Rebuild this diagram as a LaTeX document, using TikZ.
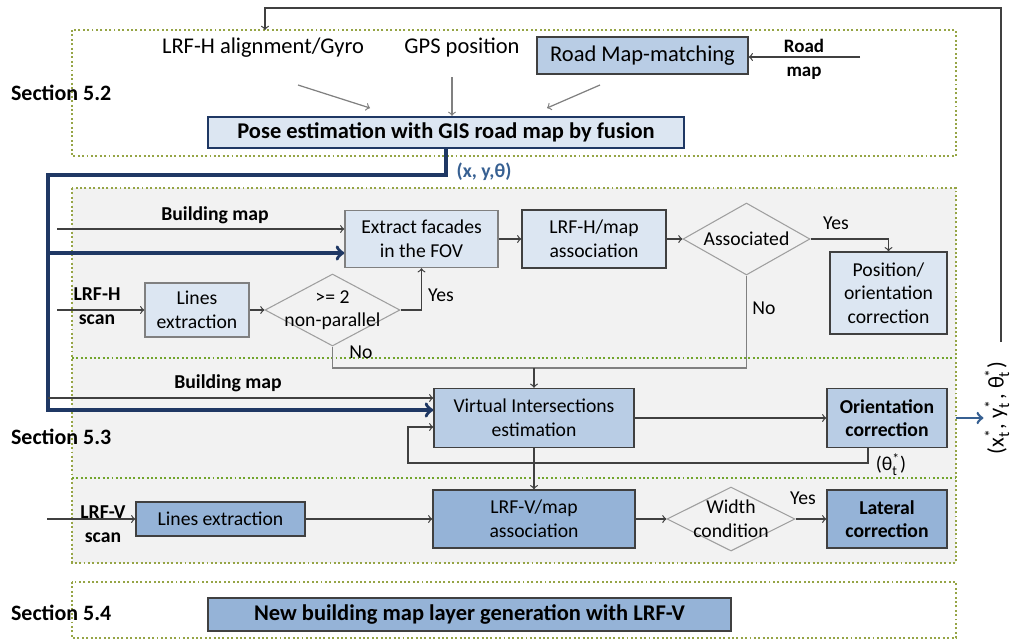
\documentclass[tikz,border=0pt]{standalone}
\usepackage{fontspec}
\usepackage{amsmath}
\setmainfont{Carlito}
\usetikzlibrary{shapes.geometric}

\definecolor{boxlight}{RGB}{220,230,242}
\definecolor{boxmid}{RGB}{185,205,229}
\definecolor{boxdark}{RGB}{149,179,215}
\definecolor{busblue}{RGB}{31,56,100}
\definecolor{outblue}{RGB}{55,96,146}
\definecolor{secolive}{RGB}{150,165,70}
\definecolor{secgreen}{RGB}{115,165,45}
\definecolor{secfill}{RGB}{242,242,242}
\definecolor{linegray}{RGB}{64,64,64}

\newcommand{\dfont}{\fontsize{11.2}{13.4}\selectfont}
\newcommand{\bigfont}{\fontsize{12.8}{15}\selectfont}

\tikzset{
	txt/.style={font=\dfont, inner sep=1pt, align=center},
	btxt/.style={font=\dfont\bfseries, inner sep=1pt, align=center},
	blk/.style={draw=linegray, line width=0.8pt, font=\dfont, align=center, inner sep=1pt},
	dec/.style={diamond, draw=gray!75, line width=0.6pt, inner sep=0pt},
	arr/.style={->, draw=linegray, line width=0.7pt},
	bus/.style={->, draw=busblue, line width=2pt},
	frame/.style={draw=secolive, line width=1.4pt, dash pattern=on 1.1pt off 1.4pt},
	sep/.style={draw=secgreen, line width=1.4pt, dash pattern=on 1.1pt off 1.4pt}
}

\begin{document}
\begin{tikzpicture}[x=0.02cm, y=-0.02cm]
			\useasboundingbox (0,0) rectangle (1011,640);
			% sections
			\fill[secfill] (72,188) rectangle (956,563);
			\draw[frame] (72,30) rectangle (956,156);
			\draw[frame] (72,188) rectangle (956,563);
			\draw[sep] (72,358) -- (956,358);
			\draw[sep] (72,478) -- (956,478);
			\draw[frame] (72,582) rectangle (956,638);
			\node[btxt, anchor=west, font=\fontsize{12.5}{15}\selectfont\bfseries](s52) at (9,93){Section 5.2};
			\node[btxt, anchor=west, font=\fontsize{12.5}{15}\selectfont\bfseries](s53) at (9,437){Section 5.3};
			\node[btxt, anchor=west, font=\fontsize{12.5}{15}\selectfont\bfseries](s54) at (9,613){Section 5.4};
			% section 5.2
			\node[txt, font=\bigfont](gyro) at (263,48){LRF-H alignment/Gyro};
			\node[txt, font=\bigfont](gps) at (462,48){GPS position};
			\node[blk, font=\bigfont, fill=boxmid, minimum width=4.22cm, minimum height=0.74cm](rmm) at (642.5,55.5){Road Map-matching};
			\node[btxt, font=\fontsize{10.8}{13.5}\selectfont\bfseries](road) at (804,59){Road\\map};
			\node[blk, font=\bigfont\bfseries, draw=busblue, fill=boxlight, line width=1.3pt, minimum width=9.52cm, minimum height=0.62cm](pose) at (446,132.5){Pose estimation with GIS road map by fusion};
			\node[btxt, text=outblue](xyt) at (484,172){(x, y,θ)};
			% section 5.3, LRF-H
			\node[btxt](bm1t) at (215,215){Building map};
			\node[blk, draw=gray, fill=boxlight, minimum width=3.06cm, minimum height=1.14cm](fac) at (421.5,239){Extract facades\\in the FOV};
			\node[blk, fill=boxlight, minimum width=2.88cm, minimum height=1.16cm](hass) at (594,239){LRF-H/map\\association};
			\node[dec, minimum width=2.54cm, minimum height=1.44cm](ass) at (746.5,239){};
			\node[txt](asst) at (ass){Associated};
			\node[blk, fill=boxlight, minimum width=2.34cm, minimum height=1.64cm](pos) at (888.5,293){Position/\\orientation\\correction};
			\node[btxt](lrfh) at (97,306){LRF-H\\scan};
			\node[blk, draw=gray, fill=boxlight, minimum width=2.08cm, minimum height=1.08cm](lineh) at (197,310){Lines\\extraction};
			\node[dec, minimum width=2.7cm, minimum height=1.44cm](par) at (332.5,310){};
			\node[txt](part) at (par){>= 2\\non-parallel};
			\node[txt](yes1) at (441,295){Yes};
			\node[txt](no1) at (361,352){No};
			\node[txt](yes2) at (836,223){Yes};
			\node[txt](no2) at (764,308){No};
			% section 5.3, virtual intersections
			\node[btxt](bm2t) at (228,383){Building map};
			\node[blk, fill=boxmid, minimum width=4.0cm, minimum height=1.18cm](vi) at (534,418){Virtual Intersections\\estimation};
			\node[blk, font=\dfont\bfseries, fill=boxmid, minimum width=2.4cm, minimum height=1.18cm](ori) at (887,418){Orientation\\correction};
			\node[txt](tht) at (891,465){(θ$_{\text{t}}^{\text{*}}$)};
			% LRF-V
			\node[blk, fill=boxdark, minimum width=3.38cm, minimum height=0.68cm](linev) at (220.5,519){Lines extraction};
			\node[blk, fill=boxdark, minimum width=4.04cm, minimum height=1.16cm](vass) at (534,519){LRF-V/map\\association};
			\node[dec, minimum width=2.56cm, minimum height=1.28cm](wid) at (731,519){};
			\node[txt](widt) at (wid){Width\\condition};
			\node[blk, font=\dfont\bfseries, fill=boxdark, minimum width=2.4cm, minimum height=1.16cm](lat) at (887,519){Lateral\\correction};
			\node[txt](yes3) at (803,498){Yes};
			% section 5.4
			\node[blk, font=\bigfont\bfseries, fill=boxdark, minimum width=10.46cm, minimum height=0.66cm](newmap) at (469.5,614.5){New building map layer generation with LRF-V};
			% output
			\node[txt, font=\bigfont, rotate=90, inner sep=0.5pt](out) at (997,408){(x$_{\text{t}}^{\text{*}}$, y$_{\text{t}}^{\text{*}}$, θ$_{\text{t}}^{\text{*}}$)};

			% connectors
			\coordinate (fbstart) at (1001,342);
			\coordinate (fbtop) at (265,8);
			\coordinate (fbin) at (265,30);
			\draw[arr] (fbstart) |- (fbtop) -- (fbin);
			\coordinate (rin) at (860,57);
			\draw[arr] (rin) -- (rin -| rmm.east);
			\coordinate (g1) at (298,85);
			\coordinate (g2) at (370,108);
			\draw[arr, draw=gray] (g1) -- (g2);
			\coordinate (p1) at (452,77);
			\draw[arr, draw=gray] (p1) -- (p1 |- pose.north);
			\coordinate (m1) at (600,85);
			\coordinate (m2) at (547,108);
			\draw[arr, draw=gray] (m1) -- (m2);
			\coordinate (busc) at (48,175);
			\coordinate (busf) at (48,253);
			\draw[bus] (pose.south) |- (busc) |- ([yshift=0.16cm]vi.west);
			\draw[bus] (busf) -- (busf -| fac.west);
			\coordinate (bm1) at (57,229);
			\coordinate (bm2) at (48,398);
			\coordinate (hin) at (57,310);
			\coordinate (vin) at (47,519);
			\draw[arr] (bm1) -- (bm1 -| fac.west);
			\draw[arr] (bm2) -- (bm2 -| vi.west);
			\draw[arr] (hin) -- (lineh.west);
			\draw[arr] (vin) -- (linev.west);
			\draw[arr] (lineh) -- (par);
			\draw[arr] (par.east) -| (fac.south);
			\draw[arr] (fac) -- (hass);
			\draw[arr] (hass) -- (ass);
			\draw[arr] (ass.east) -| (pos.north);
			\coordinate (nojoin) at (534,368);
			\draw[draw=gray, line width=0.7pt] (par.south) |- (nojoin);
			\draw[draw=gray, line width=0.7pt] (ass.south) |- (nojoin);
			\draw[arr] (nojoin) -- (vi.north);
			\draw[arr] (vi) -- (ori);
			\coordinate (fbl) at (408,463);
			\draw[arr] ([xshift=-0.38cm]ori.south) |- (fbl) |- ([yshift=-0.18cm]vi.west);
			\draw[arr] (vi) -- (vass);
			\draw[arr] (linev) -- (vass);
			\draw[arr] (vass) -- (wid);
			\draw[arr] (wid) -- (lat);
			\draw[->, draw=outblue, line width=1.5pt] ([xshift=0.16cm]ori.east) -- (ori.east -| out.north);
			\node[btxt](lrfv) at (103,524){LRF-V\\scan};
\end{tikzpicture}
\end{document}
